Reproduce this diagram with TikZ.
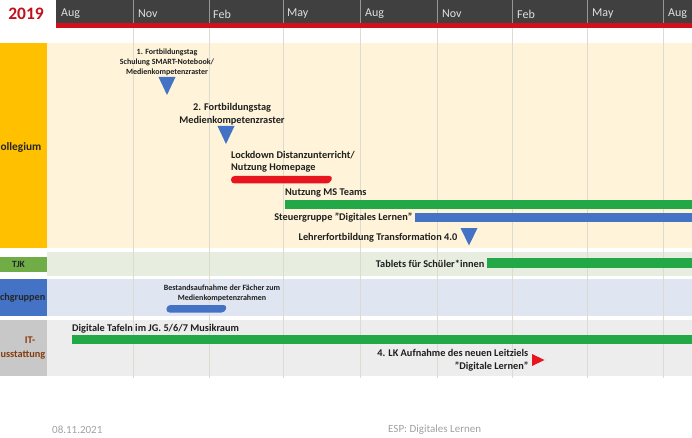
\documentclass[tikz,border=0pt]{standalone}
\usepackage{fontspec}
\setmainfont{Carlito}
\definecolor{hdr}{HTML}{404040}
\definecolor{hdrred}{HTML}{D0101A}
\definecolor{yr}{HTML}{C0101A}
\definecolor{kolbg}{HTML}{FFF4D9}
\definecolor{tjkbg}{HTML}{E8EEDF}
\definecolor{fgbg}{HTML}{DFE5F1}
\definecolor{itbg}{HTML}{EDEDED}
\definecolor{kolbox}{HTML}{FFC000}
\definecolor{tjkbox}{HTML}{70AD47}
\definecolor{fgbox}{HTML}{4472C4}
\definecolor{itbox}{HTML}{C8C8C8}
\definecolor{itlbl}{HTML}{843C0C}
\definecolor{bargreen}{HTML}{22A846}
\definecolor{barblue}{HTML}{4472C4}
\definecolor{barred}{HTML}{E8141E}
\definecolor{gridln}{HTML}{DDDAD2}
\definecolor{foot}{HTML}{A0A0A0}
\begin{document}
\begin{tikzpicture}[x=1pt,y=-1pt,
  month/.style={font=\fontsize{12}{13}\selectfont, text=white!88!black, anchor=west, inner sep=0pt},
  rowlbl/.style={font=\bfseries\fontsize{10.5}{12.5}\selectfont, inner sep=0pt, text=black!85},
  itemtxt/.style={font=\bfseries\fontsize{10.3}{12.5}\selectfont, inner sep=0pt, text=black!88},
  smalltxt/.style={font=\bfseries\fontsize{8}{10}\selectfont, inner sep=0pt, align=center, text=black!88},
  foottxt/.style={font=\fontsize{11}{12}\selectfont, inner sep=0pt, text=foot, anchor=west},
  milestone/.style={fill=barblue},
]
\useasboundingbox (0,0) rectangle (692,438);
\clip (0,0) rectangle (692,438);

% header bar with year and months
\fill[hdr] (56,0) rectangle (692,23);
\fill[hdrred] (56,23) rectangle (692,28.5);
\node[font=\bfseries\fontsize{17.5}{18}\selectfont, text=yr, inner sep=0pt] (year) at (26,14) {2019};

% row backgrounds
\fill[kolbg] (47,43) rectangle (692,248);
\fill[tjkbg] (47,252) rectangle (692,276);
\fill[fgbg] (47,279) rectangle (692,315.5);
\fill[itbg] (47,320) rectangle (692,376);

% month grid
\foreach \gx in {133,209,283,360,437,512,587,663} {
  \draw[white!45!hdr, line width=0.7pt] (\gx,0) -- (\gx,23);
  \draw[gridln, line width=0.6pt] (\gx,28.5) -- (\gx,378);
}
\foreach \mx/\mn [count=\i] in {61/Aug,138/Nov,213/Feb,287/May,365/Aug,442/Nov,517/Feb,592/May,668/Aug}
  \node[month] (m\i) at (\mx,14) {\mn};

% row label boxes
\fill[kolbox] (0,43) rectangle (47,248);
\fill[tjkbox] (0,257) rectangle (47,272);
\fill[fgbox] (0,279) rectangle (47,315.5);
\fill[itbox] (0,320) rectangle (47,376);
\node[rowlbl, anchor=east, font=\bfseries\fontsize{11.3}{13}\selectfont] (kol) at (41.5,147) {ollegium};
\node[rowlbl, font=\bfseries\fontsize{9.5}{11}\selectfont] (tjk) at (18.5,264.5) {TJK};
\node[rowlbl, anchor=east, font=\bfseries\fontsize{10.2}{12}\selectfont] (fg) at (45.5,298) {chgruppen};
\node[rowlbl, text=itlbl, font=\bfseries\fontsize{10.3}{12}\selectfont] (it1) at (30,340.5) {IT-};
\node[rowlbl, anchor=east, text=itlbl, font=\bfseries\fontsize{10.3}{12}\selectfont] (it2) at (45.5,355.5) {usstattung};

% Kollegium
\node[smalltxt] (fb1) at (167,62) {1. Fortbildungstag\\Schulung SMART-Notebook/\\Medienkompetenzraster};
\fill[milestone] (158.5,77) -- (175.5,77) -- (167,95) -- cycle;
\node[itemtxt, align=center] (fb2) at (232,114) {2. Fortbildungstag\\Medienkompetenzraster};
\fill[milestone] (217.5,126) -- (234.5,126) -- (226,144) -- cycle;
\node[itemtxt, align=left, anchor=north west] (lock) at (231,151) {Lockdown Distanzunterricht/\\Nutzung Homepage};
\fill[barred, rounded corners=3.5pt] (231,176) -- (333,176) -- (330,183.5) -- (231,183.5) -- cycle;
\node[itemtxt, anchor=west] (teams) at (285,193) {Nutzung MS Teams};
\fill[bargreen] (285,200) rectangle (692,209);
\node[itemtxt, anchor=east] (steuer) at (412.5,218) {Steuergruppe "Digitales Lernen"};
\fill[barblue] (415,213) rectangle (692,222);
\node[itemtxt, anchor=east] (lfb) at (457.5,238) {Lehrerfortbildung Transformation 4.0};
\fill[milestone] (460.5,228) -- (477.5,228) -- (469,245.5) -- cycle;

% TJK
\node[itemtxt, anchor=east] (tablets) at (484.5,264) {Tablets für Schüler*innen};
\fill[bargreen] (487,258) rectangle (692,268);

% Fachgruppen
\node[smalltxt] (bestand) at (222,293) {Bestandsaufnahme der Fächer zum\\Medienkompetenzrahmen};
\fill[barblue, rounded corners=3.5pt] (167,305) -- (227,305) -- (225,312.5) -- (166,312.5) -- cycle;

% IT-Ausstattung
\node[itemtxt, anchor=west] (tafeln) at (72,329) {Digitale Tafeln im JG. 5/6/7 Musikraum};
\fill[bargreen] (72,335) rectangle (692,344);
\node[itemtxt, align=right, anchor=east] (lk) at (528.5,360.5) {4. LK Aufnahme des neuen Leitziels\\"Digitale Lernen"};
\fill[barred] (532,354) -- (544.5,360) -- (532,366) -- cycle;

% footer
\node[foottxt] (date) at (52,430) {08.11.2021};
\node[foottxt] (title) at (388,430) {ESP: Digitales Lernen};
\end{tikzpicture}
\end{document}
